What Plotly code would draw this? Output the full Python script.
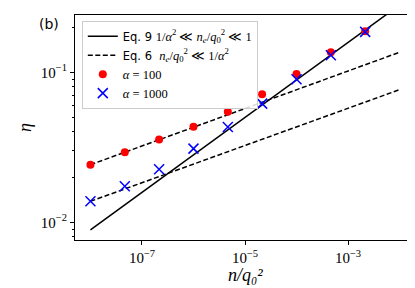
import plotly.graph_objects as go

# Data
n_vals = [1e-8, 4.64e-8, 2.15e-7, 1e-6, 4.64e-6, 2.15e-5, 1e-4, 4.64e-4, 2.15e-3]
eta_a100 = [0.0242, 0.0293, 0.0356, 0.0434, 0.0546, 0.0713, 0.0975, 0.136, 0.1875]
eta_a1000 = [0.0138, 0.0174, 0.0226, 0.031, 0.0432, 0.0618, 0.0898, 0.130, 0.186]

eq9_x = [1e-8, 1e-2]
eq9_y = [0.0089, 0.281]
eq6_a100_x = [1e-8, 1e-2]
eq6_a100_y = [0.0242, 0.136]
eq6_a1000_x = [1e-8, 1e-2]
eq6_a1000_y = [0.0138, 0.0766]

x_tickvals = [1e-7, 1e-5, 1e-3]
x_ticktext = ["10<sup>−7</sup>", "10<sup>−5</sup>", "10<sup>−3</sup>"]
y_tickvals = [1e-2, 1e-1]
y_ticktext = ["10<sup>−2</sup>", "10<sup>−1</sup>"]
y_minor = [k * 10**e for e in (-3, -2, -1) for k in range(2, 10)]

SERIF = "Liberation Serif"
def m(s):
    return f"<span style='font-family:{SERIF};font-size:12.5px'>{s}</span>"

lab_eq9 = "Eq. 9 " + m("1/<i>α</i><sup>2</sup> ≪ <i>n</i><sub><i>e</i></sub>/<i>q</i><sub>0</sub><sup>2</sup> ≪ 1")
lab_eq6 = "Eq. 6  " + m("<i>n</i><sub><i>e</i></sub>/<i>q</i><sub>0</sub><sup>2</sup> ≪ 1/<i>α</i><sup>2</sup>")
lab_a100 = m("<i>α</i> = 100")
lab_a1000 = m("<i>α</i> = 1000")

DASH = "5px,2.5px"

fig = go.Figure()
fig.add_trace(go.Scatter(x=eq9_x, y=eq9_y, mode="lines", name=lab_eq9,
                         line=dict(color="black", width=1.5)))
fig.add_trace(go.Scatter(x=eq6_a100_x, y=eq6_a100_y, mode="lines", name=lab_eq6,
                         line=dict(color="black", width=1.5, dash=DASH)))
fig.add_trace(go.Scatter(x=eq6_a1000_x, y=eq6_a1000_y, mode="lines", showlegend=False,
                         line=dict(color="black", width=1.5, dash=DASH)))
fig.add_trace(go.Scatter(x=n_vals, y=eta_a100, mode="markers", name=lab_a100,
                         marker=dict(color="red", size=8, symbol="circle")))
fig.add_trace(go.Scatter(x=n_vals, y=eta_a1000, mode="markers", name=lab_a1000,
                         marker=dict(color="blue", size=10, symbol="x-thin",
                                     line=dict(color="blue", width=1.5))))

fig.update_layout(
    width=415, height=288,
    margin=dict(l=67, r=8, t=7, b=56),
    paper_bgcolor="white", plot_bgcolor="white",
    font=dict(family="DejaVu Sans", size=11.5, color="black"),
    legend=dict(x=0.02, y=0.975, xanchor="left", yanchor="top",
                bgcolor="rgba(255,255,255,0.85)", bordercolor="#cccccc", borderwidth=1,
                font=dict(size=11.5), tracegroupgap=0, itemwidth=30),
    xaxis=dict(type="log", range=[-8.3, -1.7], showgrid=False, zeroline=False,
               showline=True, linecolor="black", linewidth=1, mirror=True,
               ticks="outside", ticklen=4, tickcolor="black",
               tickvals=x_tickvals, ticktext=x_ticktext,
               tickfont=dict(family=SERIF, size=15)),
    yaxis=dict(type="log", range=[-2.118, -0.618], showgrid=False, zeroline=False,
               showline=True, linecolor="black", linewidth=1, mirror=True,
               ticks="outside", ticklen=4, tickcolor="black",
               tickvals=y_tickvals, ticktext=y_ticktext,
               tickfont=dict(family=SERIF, size=15),
               minor=dict(tickvals=y_minor, ticks="outside", ticklen=2, tickcolor="black"),
               title=dict(text="<i>η</i>", font=dict(family=SERIF, size=18), standoff=4)),
    annotations=[
        dict(text="(b)", x=(41 - 67) / 340, y=(232 - 16) / 225,
             xref="paper", yref="paper", xanchor="center", yanchor="middle",
             showarrow=False, font=dict(family="DejaVu Sans", size=14)),
        dict(text="<i>n/q₀²</i>", x=0.5, y=(232 - 267) / 225,
             xref="paper", yref="paper", xanchor="center", yanchor="middle",
             showarrow=False, font=dict(family=SERIF, size=18)),
    ],
)

fig.write_html("out.html")
